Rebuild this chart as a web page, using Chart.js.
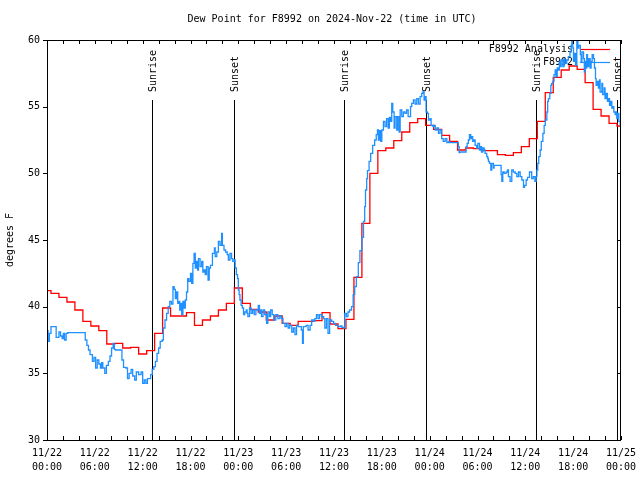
<!DOCTYPE html>
<html><head><meta charset="utf-8">
<script src="https://cdn.jsdelivr.net/npm/chart.js@4.4.1/dist/chart.umd.min.js"></script>
<style>html,body{margin:0;padding:0;background:#fff}#c{display:block}</style>
</head><body>
<canvas id="c" width="640" height="480"></canvas>
<script>
// ---------------- DATA ----------------
const titleText = 'Dew Point for F8992 on 2024-Nov-22 (time in UTC)';
const yAxisTitle = 'degrees F';
const analysisLabel = 'F8992 Analysis';
const obsLabel = 'F8992';

const xTickHours = [0, 6, 12, 18, 24, 30, 36, 42, 48, 54, 60, 66, 72];
const xTickLabels = [
  ['11/22','00:00'],['11/22','06:00'],['11/22','12:00'],['11/22','18:00'],
  ['11/23','00:00'],['11/23','06:00'],['11/23','12:00'],['11/23','18:00'],
  ['11/24','00:00'],['11/24','06:00'],['11/24','12:00'],['11/24','18:00'],
  ['11/25','00:00']
];

const sunEventHours = [13.21, 23.5, 37.3, 47.5, 61.34, 71.54];
const sunEventLabels = ['Sunrise', 'Sunset', 'Sunrise', 'Sunset', 'Sunrise', 'Sunset'];

// hourly analysis (hours since 11/22 00:00 UTC)
const analysisHours = [
  0,1,2,3,4,5,6,7,8,9,10,11,12,13,14,15,16,17,18,19,20,21,22,23,
  24,25,26,27,28,29,30,31,32,33,34,35,36,37,38,39,40,41,42,43,44,45,46,47,
  48,49,50,51,52,53,54,55,56,57,58,59,60,61,62,63,64,65,66,67,68,69,70,71,72
];
const analysisValues = [
  41.2,41.0,40.7,40.35,39.75,38.9,38.55,38.2,37.2,37.25,36.9,36.95,36.45,36.7,38.0,39.9,39.3,39.3,39.55,38.6,39.0,39.3,39.75,40.25,
  41.4,40.25,39.8,39.6,39.0,39.3,38.75,38.6,38.9,38.9,38.95,39.55,38.7,38.35,39.05,42.2,46.25,50.0,51.7,51.9,52.45,53.1,53.8,54.1,
  53.6,53.3,52.85,52.4,51.75,51.9,51.85,51.7,51.7,51.4,51.35,51.55,52.0,52.6,53.9,56.05,57.2,57.75,58.05,57.8,56.8,54.8,54.3,53.75,53.55
];

// station observations (hours since 11/22 00:00 UTC)
const obsHours = [
  // 0 - 15
  0,0.13,0.3,0.5,1.05,1.15,1.5,1.7,1.9,2.05,
  2.2,2.4,2.6,4.6,4.8,5.0,5.2,5.4,5.7,5.9,
  6.1,6.3,6.5,6.7,6.85,7.0,7.25,7.45,7.7,7.9,
  8.1,8.3,8.45,8.6,9.25,9.4,9.6,9.9,10.1,10.3,
  10.55,10.75,11.0,11.2,11.5,11.8,12.0,12.2,12.4,12.6,
  12.8,13.0,13.2,13.4,13.6,13.8,14.0,14.2,14.45,14.6,
  14.8,
  // 15 - 26
  15.0,15.2,15.4,15.6,15.8,15.95,16.1,16.25,16.4,16.5,
  16.65,16.8,16.9,17.05,17.2,17.35,17.5,17.65,17.8,18.0,
  18.15,18.3,18.45,18.6,18.75,18.9,19.0,19.2,19.4,19.55,
  19.7,19.85,20.0,20.2,20.35,20.5,20.75,21.0,21.1,21.3,
  21.5,21.7,21.9,22.0,22.2,22.4,22.6,22.75,22.95,23.15,
  23.3,23.5,23.6,23.75,23.9,24.0,24.1,24.2,24.35,24.5,
  24.65,24.8,25.0,25.1,25.2,25.4,25.6,25.8,26.0,26.2,
  // 26 - 38
  26.5,26.65,26.8,26.9,27.1,27.3,27.55,27.7,27.9,28.05,
  28.25,28.45,28.7,28.95,29.2,29.4,29.6,29.85,30.05,30.25,
  30.45,30.7,30.9,31.1,31.3,31.5,31.75,31.9,32.05,32.15,
  32.5,32.75,33.0,33.2,33.45,33.6,33.8,34.0,34.2,34.45,
  34.7,34.85,35.05,35.25,35.45,35.7,35.95,36.2,36.5,36.8,
  37.0,37.2,37.35,37.55,37.75,37.95,
  // 38 - 50
  38.2,38.4,38.6,38.8,39.05,39.25,39.5,39.7,39.85,39.95,
  40.1,40.2,40.4,40.6,40.85,41.1,41.3,41.45,41.57,41.7,
  41.86,42.0,42.2,42.4,42.6,42.8,42.95,43.1,43.24,43.37,
  43.54,43.66,43.87,44.0,44.17,44.3,44.5,44.7,44.9,45.1,
  45.3,45.6,45.75,45.96,46.17,46.38,46.59,46.8,47.0,47.14,
  47.3,47.43,47.55,47.72,47.85,48.05,48.18,48.4,48.56,48.7,
  48.9,49.1,49.3,49.5,49.7,49.94,50.15,50.35,
  // 50 - 61
  50.5,51.5,51.6,51.7,51.8,52.45,52.57,52.7,52.85,52.99,
  53.15,53.27,53.4,53.57,53.7,53.9,54.04,54.25,54.4,54.5,
  54.66,54.83,54.95,55.16,55.29,55.37,55.5,55.67,55.79,56.0,
  56.08,56.84,56.96,57.05,57.17,57.34,57.59,57.76,57.88,58.09,
  58.3,58.5,58.72,58.93,59.14,59.35,59.56,59.77,59.9,60.1,
  60.27,60.52,60.7,60.8,61.0,61.2,
  // 61 - 72
  61.36,61.45,61.56,61.68,61.86,62.0,62.2,62.36,62.5,62.7,
  62.8,62.9,63.07,63.2,63.3,63.45,63.6,63.74,63.86,64.0,
  64.14,64.27,64.4,64.5,64.7,64.86,64.98,65.2,65.4,65.6,
  65.75,65.83,65.96,66.04,66.16,66.3,66.46,66.6,66.7,66.9,
  67.0,67.1,67.3,67.4,67.5,67.6,67.7,67.8,67.96,68.13,
  68.25,68.38,68.55,68.67,68.8,68.88,69.05,69.17,69.3,69.38,
  69.6,69.7,69.9,70.0,70.14,70.3,70.43,70.56,70.7,70.85,
  70.97,71.1,71.27,71.4,71.47,71.6,71.73,71.9,72.0
];
const obsValues = [
  // 0 - 15
  38.2,37.4,38.0,38.5,38.5,37.7,38.1,37.8,37.6,38.0,
  37.5,38.0,38.05,38.05,37.5,37.1,36.75,36.4,35.9,36.2,
  35.4,36.0,35.7,35.4,35.8,35.4,35.0,35.6,35.9,36.3,
  36.9,37.25,36.8,36.75,36.75,36.0,35.45,35.4,34.6,35.0,
  35.3,34.8,34.5,35.1,34.9,35.1,34.25,34.5,34.25,34.6,
  34.6,34.9,35.3,35.5,35.9,36.5,36.9,37.4,37.5,38.4,
  39.0,
  // 15 - 26
  39.5,40.0,40.4,40.2,41.5,41.3,40.6,41.1,40.25,40.4,
  39.75,40.25,39.4,40.4,39.9,40.5,41.1,42.1,41.9,42.5,
  41.75,43.25,44.0,42.9,43.4,42.75,43.6,43.0,43.4,42.6,
  42.75,42.4,43.0,42.0,42.9,43.1,44.0,44.4,43.75,44.1,
  44.9,44.6,45.5,44.6,44.25,44.1,43.9,43.5,44.0,43.6,
  43.4,43.5,42.9,42.4,42.1,41.25,40.9,40.5,40.1,39.9,
  39.4,39.6,39.75,39.5,39.25,39.9,39.5,39.75,39.4,39.75,
  // 26 - 38
  40.1,39.5,39.75,39.25,39.75,39.4,38.75,39.6,39.25,39.75,
  39.4,39.0,39.4,39.1,39.3,39.1,38.75,38.5,38.75,38.4,
  38.6,38.1,38.4,37.9,38.6,38.5,38.5,38.25,37.25,38.5,
  38.6,38.25,38.6,39.0,38.9,39.1,39.4,39.1,39.4,39.25,
  39.1,38.4,39.1,38.0,39.0,38.9,38.75,38.6,38.5,38.55,
  38.45,38.4,39.5,39.25,39.6,39.75,
  // 38 - 50
  40.0,40.9,41.5,42.25,43.3,44.2,45.2,46.4,47.5,48.75,
  49.6,50.2,50.9,51.5,52.1,52.5,52.9,53.25,52.5,53.2,
  52.4,53.25,53.9,53.5,54.1,53.4,54.2,53.9,55.25,54.6,
  53.4,54.25,53.25,54.25,53.1,54.75,54.25,54.6,54.5,54.75,
  54.25,55.0,55.25,55.5,55.2,55.6,55.2,55.75,56.0,56.1,
  55.5,55.75,54.6,54.5,54.0,54.1,53.6,53.5,53.6,53.25,
  53.4,53.0,53.25,52.6,52.4,52.6,52.3,52.4,
  // 50 - 61
  52.3,52.3,52.0,51.55,51.6,51.6,52.0,52.25,52.5,52.9,
  52.6,52.75,52.4,52.5,52.1,51.9,52.25,51.75,52.0,51.6,
  51.9,51.75,51.5,51.25,51.1,50.9,50.75,50.25,50.75,50.4,
  50.6,50.6,49.9,49.4,50.1,50.0,50.1,50.25,49.75,49.4,
  50.25,50.1,50.0,49.75,50.1,49.75,49.5,48.95,49.1,49.5,
  49.7,50.1,50.1,49.6,49.75,49.4,
  // 61 - 72
  49.75,50.25,50.75,51.25,51.75,52.4,53.0,53.6,54.0,54.6,
  55.4,55.6,56.0,56.6,56.75,56.9,57.4,57.75,57.25,57.9,
  57.75,58.4,58.0,58.5,58.0,58.6,58.25,58.5,58.75,59.1,
  59.6,60.0,59.4,58.4,59.0,58.1,59.9,59.4,59.6,58.9,
  58.4,59.1,58.6,57.6,58.4,57.9,58.9,58.0,58.6,57.9,
  58.4,58.9,58.6,57.9,57.1,56.6,56.9,56.4,57.0,56.1,
  56.75,55.9,56.4,55.6,56.0,55.4,55.6,55.1,55.4,54.9,
  55.0,54.6,54.4,54.6,54.1,54.5,53.9,53.6,54.2
];

// ---------------- STYLE ----------------
const FONT = '"DejaVu Sans Mono", "Liberation Mono", monospace';
const RED = '#ff0000';
const BLUE = '#1e90ff';

const decor = {
  id: 'decor',
  beforeDatasetsDraw(chart) {
    const {ctx, chartArea: a, scales: {x, y}} = chart;
    ctx.save();
    ctx.font = '10px ' + FONT;
    ctx.fillStyle = '#000';
    ctx.strokeStyle = '#000';
    ctx.lineWidth = 1;
    const lineTop = Math.round(y.getPixelForValue(55.5));
    sunEventHours.forEach((h, i) => {
      const px = Math.round(x.getPixelForValue(h)) + 0.5;
      ctx.beginPath(); ctx.moveTo(px, lineTop); ctx.lineTo(px, a.bottom); ctx.stroke();
      ctx.save();
      ctx.translate(px + 0.5, lineTop - 8);
      ctx.rotate(-Math.PI / 2);
      ctx.textAlign = 'left'; ctx.textBaseline = 'middle';
      ctx.fillText(sunEventLabels[i], 0, 0);
      ctx.restore();
    });
    // legend
    const entries = [
      {label: chart.data.datasets[1].label, color: chart.data.datasets[1].borderColor, yy: 49.5},
      {label: chart.data.datasets[0].label, color: chart.data.datasets[0].borderColor, yy: 62.5}
    ];
    entries.forEach(e => {
      ctx.fillStyle = '#000'; ctx.textAlign = 'right'; ctx.textBaseline = 'middle';
      ctx.fillText(e.label, a.right - 48, e.yy);
      ctx.strokeStyle = e.color; ctx.lineWidth = 1.2;
      ctx.beginPath(); ctx.moveTo(a.right - 41, e.yy); ctx.lineTo(a.right - 11, e.yy); ctx.stroke();
    });
    ctx.restore();
  },
  afterDraw(chart) {
    const {ctx, chartArea: a, scales: {x, y}} = chart;
    ctx.save();
    ctx.strokeStyle = '#000'; ctx.lineWidth = 1;
    ctx.strokeRect(a.left + 0.5, a.top + 0.5, a.right - a.left - 1, a.bottom - a.top);
    ctx.beginPath();
    for (let h = x.min; h <= x.max; h += 2) {
      const px = Math.round(x.getPixelForValue(h)) + 0.5;
      ctx.moveTo(px, a.bottom); ctx.lineTo(px, a.bottom - 4);
      ctx.moveTo(px, a.top); ctx.lineTo(px, a.top + 4);
    }
    for (let v = y.min; v <= y.max; v += 5) {
      const py = Math.round(y.getPixelForValue(v)) + 0.5;
      ctx.moveTo(a.left - 4, py); ctx.lineTo(a.left, py);
      ctx.moveTo(a.right - 4, py); ctx.lineTo(a.right, py);
    }
    ctx.stroke();
    // title
    ctx.fillStyle = '#000';
    ctx.font = '10px ' + FONT;
    ctx.textAlign = 'center'; ctx.textBaseline = 'middle';
    ctx.fillText(titleText, (a.left + a.right) / 2 - 2, 19);
    // y axis title
    ctx.save();
    ctx.translate(10, (a.top + a.bottom) / 2);
    ctx.rotate(-Math.PI / 2);
    ctx.fillText(yAxisTitle, 0, 0);
    ctx.restore();
    ctx.restore();
  }
};

new Chart(document.getElementById('c').getContext('2d'), {
  type: 'line',
  data: {
    datasets: [
      {
        label: obsLabel,
        data: obsHours.map((h, i) => ({x: h, y: obsValues[i]})),
        borderColor: BLUE, borderWidth: 1.3, pointRadius: 0,
        stepped: 'before', fill: false, order: 0
      },
      {
        label: analysisLabel,
        data: analysisHours.map((h, i) => ({x: h, y: analysisValues[i]})),
        borderColor: RED, borderWidth: 1.3, pointRadius: 0,
        stepped: 'middle', fill: false, order: 1
      }
    ]
  },
  options: {
    responsive: false,
    animation: false,
    devicePixelRatio: 1,
    layout: {padding: {top: 40, right: 19, left: 0, bottom: 0}},
    plugins: {legend: {display: false}, title: {display: false}, tooltip: {enabled: false}},
    scales: {
      x: {
        type: 'linear', min: 0, max: 72,
        afterFit(s) { s.height = 40; s.paddingLeft = 0; s.paddingRight = 0; },
        afterBuildTicks(s) { s.ticks = xTickHours.map(v => ({value: v})); },
        ticks: {
          autoSkip: false, maxRotation: 0, minRotation: 0, padding: 7,
          color: '#000', font: {family: FONT, size: 10, lineHeight: 1.35},
          callback: (v, i) => xTickLabels[i]
        },
        grid: {display: false, drawTicks: false},
        border: {display: false}
      },
      y: {
        min: 30, max: 60,
        afterFit(s) { s.width = 47; s.paddingTop = 0; s.paddingBottom = 0; },
        ticks: {
          stepSize: 5, padding: 7, color: '#000',
          font: {family: FONT, size: 10}
        },
        grid: {display: false, drawTicks: false},
        border: {display: false}
      }
    }
  },
  plugins: [decor]
});
</script>
</body></html>
